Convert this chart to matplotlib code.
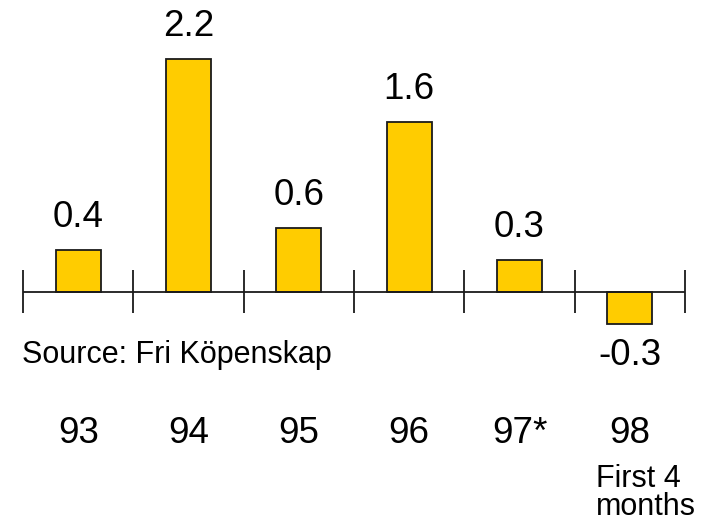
import matplotlib
matplotlib.use("Agg")
import matplotlib.pyplot as plt
import numpy as np

plt.rcParams['font.family'] = ['Liberation Sans', 'DejaVu Sans']

# Growth by year (percent)
years = ["93", "94", "95", "96", "97*", "98"]
values = [0.4, 2.2, 0.6, 1.6, 0.3, -0.3]
value_labels = ["0.4", "2.2", "0.6", "1.6", "0.3", "-0.3"]
note_lines = ["First 4", "months"]
source = "Source: Fri Köpenskap"

W, H = 710, 521
fig = plt.figure(figsize=(W / 100, H / 100), dpi=100)
ax = fig.add_axes([0, 0, 1, 1])

# scale: one category slot ~110 px, one unit ~106 px, baseline at y=292 px
slot_px = 110.33
unit_px = 106.0
x0_px = 78.2
y0_px = 292.0
ax.set_xlim(-x0_px / slot_px, (W - x0_px) / slot_px)
ax.set_ylim(-(H - y0_px) / unit_px, y0_px / unit_px)
ax.axis("off")

x = np.arange(len(years))
yellow = "#FFCC00"
edge = "#1a1a1a"
big = 26.5
small = 22

ax.bar(x, values, width=0.408, color=yellow, edgecolor=edge, linewidth=1.3, zorder=2)

# baseline axis with separators between categories
bounds = np.arange(len(years) + 1) - 0.5
ax.hlines(0, bounds[0], bounds[-1], color=edge, linewidth=1.3, zorder=3)
ax.vlines(bounds, -21 / unit_px, 22 / unit_px, color=edge, linewidth=1.3, zorder=3)

for xi, v, lab in zip(x, values, value_labels):
    if v >= 0:
        ax.annotate(lab, (xi, v), xytext=(0, 23), textcoords="offset pixels",
                    ha="center", va="baseline", fontsize=big)
    else:
        ax.annotate(lab, (xi, v), xytext=(0, -41), textcoords="offset pixels",
                    ha="center", va="baseline", fontsize=big)

for xi, yr in zip(x, years):
    ax.annotate(yr, (xi, 0), xytext=(0, -(443 - y0_px)), textcoords="offset pixels",
                ha="center", va="baseline", fontsize=big)

# note under the last category
for k, line in enumerate(note_lines):
    ax.annotate(line, (x[-1], 0), xytext=(-34, -(487 - y0_px) - 28 * k),
                textcoords="offset pixels", ha="left", va="baseline", fontsize=small)

fig.text(22 / W, 1 - 363 / H, source, ha="left", va="baseline", fontsize=small)

fig.savefig("out.png", dpi=100, facecolor="white")
